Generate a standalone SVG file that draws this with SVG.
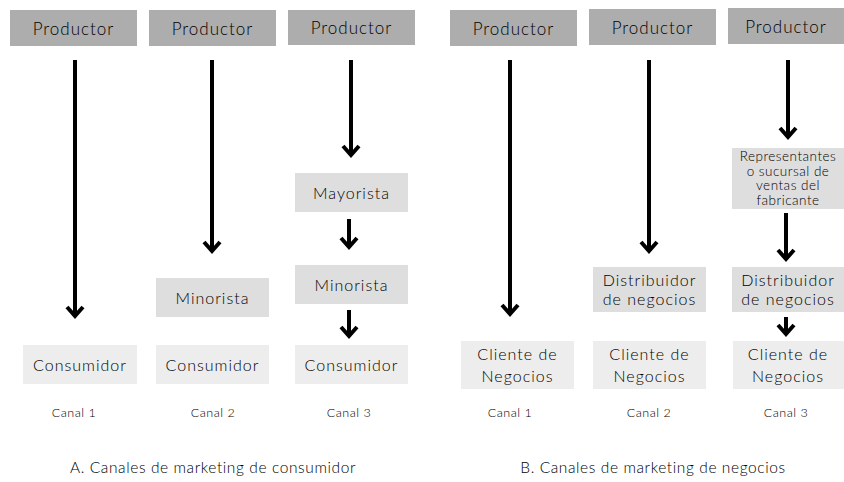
<svg xmlns="http://www.w3.org/2000/svg" width="844" height="482" viewBox="0 0 844 482">
  <style>
    text { font-family: Lato, "Open Sans", "Liberation Sans", sans-serif; font-weight: 300; fill: #000; text-anchor: middle; dominant-baseline: central; }
    .prod rect { fill: #adadad; }
    .mid rect { fill: #dedede; }
    .end rect { fill: #ededed; }
    .t16 { font-size: 16px; letter-spacing: 1px; }
    .t17 { font-size: 17px; letter-spacing: 1px; }
    .t12 { font-size: 13.5px; letter-spacing: 0.5px; }
    .canal { font-size: 12.5px; letter-spacing: 0.5px; }
    .cap { font-size: 15.5px; letter-spacing: 0.6px; }
    .arrows line { stroke: #000; stroke-width: 4; marker-end: url(#chev); }
  </style>
  <defs>
    <marker id="chev" markerUnits="userSpaceOnUse" viewBox="-14 -12 18 24" markerWidth="18" markerHeight="24" refX="0" refY="0" orient="auto" overflow="visible">
      <path d="M-9,-8 L0,0 L-9,8" fill="none" stroke="#000" stroke-width="4" stroke-linejoin="miter"/>
    </marker>
  </defs>
  <rect width="844" height="482" fill="#fff"/>

  <!-- Consumer channels: producers -->
  <g id="prod-a1" class="prod"><rect x="10" y="10" width="127" height="36"/><text class="t17" x="73.5" y="28">Productor</text></g>
  <g id="prod-a2" class="prod"><rect x="149" y="10" width="127" height="36"/><text class="t17" x="212.5" y="28">Productor</text></g>
  <g id="prod-a3" class="prod"><rect x="288" y="10" width="127" height="35"/><text class="t17" x="351.5" y="27.5">Productor</text></g>

  <!-- Business channels: producers -->
  <g id="prod-b1" class="prod"><rect x="450" y="10" width="127" height="36"/><text class="t17" x="513.5" y="28">Productor</text></g>
  <g id="prod-b2" class="prod"><rect x="589" y="9" width="127" height="36"/><text class="t17" x="652.5" y="27">Productor</text></g>
  <g id="prod-b3" class="prod"><rect x="728" y="8" width="116" height="36"/><text class="t17" x="786" y="26">Productor</text></g>

  <!-- Intermediaries -->
  <g id="mayorista" class="mid"><rect x="295" y="173" width="113" height="39"/><text class="t16" x="351.5" y="192.5">Mayorista</text></g>
  <g id="minorista-a3" class="mid"><rect x="295" y="265" width="113" height="39"/><text class="t16" x="351.5" y="284.5">Minorista</text></g>
  <g id="minorista-a2" class="mid"><rect x="156" y="278" width="113" height="39"/><text class="t16" x="212.5" y="297.5">Minorista</text></g>
  <g id="representantes" class="mid"><rect x="732" y="148" width="112" height="61"/>
    <text class="t12" x="788" y="156">Representantes</text>
    <text class="t12" x="788" y="170.5">o sucursal de</text>
    <text class="t12" x="788" y="185">ventas del</text>
    <text class="t12" x="788" y="199.5">fabricante</text>
  </g>
  <g id="distribuidor-b2" class="mid"><rect x="593" y="267" width="113" height="45"/>
    <text class="t16" x="649.5" y="279">Distribuidor</text><text class="t16" x="649.5" y="298.5">de negocios</text></g>
  <g id="distribuidor-b3" class="mid"><rect x="732" y="267" width="112" height="45"/>
    <text class="t16" x="788" y="279">Distribuidor</text><text class="t16" x="788" y="298.5">de negocios</text></g>

  <!-- Final customers -->
  <g id="consumidor-a1" class="end"><rect x="23" y="345" width="114" height="39"/><text class="t16" x="80" y="364.5">Consumidor</text></g>
  <g id="consumidor-a2" class="end"><rect x="156" y="345" width="113" height="39"/><text class="t16" x="212.5" y="364.5">Consumidor</text></g>
  <g id="consumidor-a3" class="end"><rect x="295" y="345" width="113" height="39"/><text class="t16" x="351.5" y="364.5">Consumidor</text></g>
  <g id="cliente-b1" class="end"><rect x="461" y="341" width="113" height="48"/>
    <text class="t16" x="517.5" y="353.5">Cliente de</text><text class="t16" x="517.5" y="375">Negocios</text></g>
  <g id="cliente-b2" class="end"><rect x="593" y="341" width="113" height="48"/>
    <text class="t16" x="649.5" y="353.5">Cliente de</text><text class="t16" x="649.5" y="375">Negocios</text></g>
  <g id="cliente-b3" class="end"><rect x="733" y="341" width="111" height="48"/>
    <text class="t16" x="788" y="353.5">Cliente de</text><text class="t16" x="788" y="375">Negocios</text></g>

  <!-- Connectors -->
  <g id="connectors" class="arrows">
    <line x1="75" y1="60" x2="75" y2="316"/>
    <line x1="212" y1="60" x2="212" y2="251"/>
    <line x1="351" y1="60" x2="351" y2="155"/>
    <line x1="349" y1="219" x2="349" y2="247"/>
    <line x1="349" y1="310" x2="349" y2="336"/>
    <line x1="510" y1="60" x2="510" y2="314"/>
    <line x1="649" y1="60" x2="649" y2="251"/>
    <line x1="788" y1="60" x2="788" y2="137"/>
    <line x1="786" y1="213" x2="786" y2="259"/>
    <line x1="786" y1="317" x2="786" y2="334"/>
  </g>

  <!-- Channel labels -->
  <g id="labels">
    <text class="canal" x="74" y="412">Canal 1</text>
    <text class="canal" x="213" y="412">Canal 2</text>
    <text class="canal" x="349" y="412">Canal 3</text>
    <text class="canal" x="510" y="412">Canal 1</text>
    <text class="canal" x="649" y="412">Canal 2</text>
    <text class="canal" x="786" y="412">Canal 3</text>
    <text class="cap" x="213" y="467">A. Canales de marketing de consumidor</text>
    <text class="cap" x="653" y="467">B. Canales de marketing de negocios</text>
  </g>
</svg>
